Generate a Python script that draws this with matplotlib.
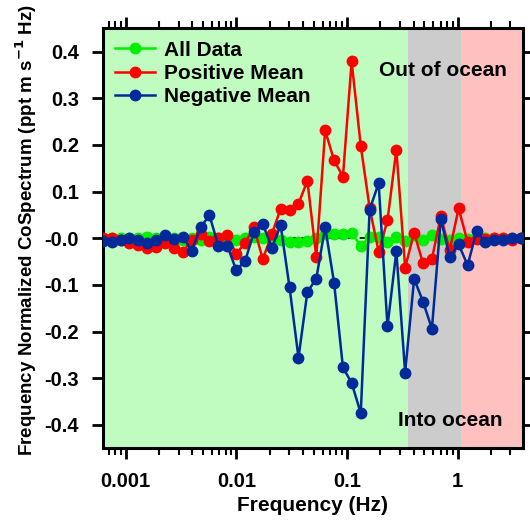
import numpy as np
import matplotlib.pyplot as plt
from matplotlib.ticker import LogLocator, NullFormatter

plt.rcParams['font.family'] = ['Liberation Sans', 'DejaVu Sans']
plt.rcParams['font.weight'] = 'bold'

# Frequency bins (Hz)
freq = [0.000619, 0.000746, 0.000897, 0.00108, 0.00130, 0.00156, 0.00188, 0.00226,
        0.00272, 0.00328, 0.00394, 0.00475, 0.00571, 0.00688, 0.00827, 0.00995,
        0.0120, 0.0144, 0.0173, 0.0209, 0.0251, 0.0302, 0.0364, 0.0438,
        0.0527, 0.0634, 0.0763, 0.0918, 0.110, 0.133, 0.160, 0.193,
        0.232, 0.279, 0.335, 0.404, 0.486, 0.585, 0.704, 0.846,
        1.02, 1.23, 1.48, 1.78, 2.14, 2.57, 3.09, 3.72]

# Frequency-normalised cospectra
all_data = [0.0, 0.0, 0.001, 0.0, 0.0, 0.002, 0.0, 0.0,
            0.0, -0.004, 0.0, -0.003, 0.002, 0.0, -0.001, -0.003,
            0.0, 0.002, 0.001, -0.001, -0.003, -0.009, -0.009, -0.006,
            0.0, 0.008, 0.008, 0.008, 0.011, -0.017, 0.003, 0.003,
            -0.009, 0.003, -0.006, 0.006, -0.003, 0.006, -0.002, -0.004,
            0.0, -0.001, 0.001, 0.0, 0.0, 0.0, 0.0, 0.0]

pos_mean = [0.0, 0.0, -0.004, -0.010, -0.015, -0.022, -0.018, -0.011,
            -0.021, -0.030, -0.003, 0.009, -0.007, 0.0, 0.006, -0.033,
            -0.010, 0.024, -0.045, 0.009, 0.063, 0.060, 0.074, 0.123,
            -0.040, 0.231, 0.167, 0.132, 0.379, 0.198, 0.065, -0.029,
            0.038, 0.190, -0.063, 0.012, -0.054, -0.044, 0.047, -0.026,
            0.064, -0.009, -0.001, -0.002, 0.0, 0.0, -0.003, 0.0]

neg_mean = [-0.007, -0.008, -0.004, 0.0, -0.004, -0.010, -0.004, 0.006,
            -0.001, 0.003, -0.027, 0.024, 0.049, -0.017, -0.016, -0.068,
            -0.049, 0.014, 0.031, -0.021, 0.028, -0.105, -0.256, -0.115,
            -0.087, 0.024, -0.095, -0.277, -0.310, -0.375, 0.061, 0.118,
            -0.189, -0.028, -0.288, -0.087, -0.136, -0.194, 0.042, -0.041,
            -0.013, -0.058, 0.015, -0.009, -0.003, -0.003, 0.001, 0.0]

# Regime boundaries (Hz)
f_min, f_ocean, f_grey, f_max = 0.00062, 0.357, 1.07, 3.86

fig = plt.figure(figsize=(5.30, 5.23), dpi=100)
ax = fig.add_axes([0.194, 0.143, 0.792, 0.803])

ax.axvspan(f_min, f_ocean, color='#c0fcc0', zorder=0, lw=0)
ax.axvspan(f_ocean, f_grey, color='#cccccc', zorder=0, lw=0)
ax.axvspan(f_grey, f_max, color='#ffc0c0', zorder=0, lw=0)
ax.axhline(0, color='black', ls='--', lw=1.2, dashes=(4, 3), zorder=1)

kw = dict(marker='o', ms=7.5, lw=1.8)
ax.plot(freq, all_data, color='#00ee00', label='All Data', zorder=2, **kw)
ax.plot(freq, pos_mean, color='#ff0000', label='Positive Mean', zorder=3, **kw)
ax.plot(freq, neg_mean, color='#002a9a', label='Negative Mean', zorder=4, **kw)

ax.set_xscale('log')
ax.set_xlim(f_min, f_max)
ax.set_ylim(-0.45, 0.45)
ax.set_xticks([0.001, 0.01, 0.1, 1])
ax.set_xticklabels(['0.001', '0.01', '0.1', '1'])
ax.xaxis.set_minor_locator(LogLocator(base=10, subs=np.arange(2, 10)))
ax.xaxis.set_minor_formatter(NullFormatter())
ax.set_yticks(np.arange(-0.4, 0.41, 0.1))
ax.set_yticklabels([f'{v:.1f}' for v in np.arange(-0.4, 0.41, 0.1)])

ax.tick_params(axis='both', which='major', direction='out', length=8, width=2,
               labelsize=14.5, top=True, right=True, pad=9)
ax.tick_params(axis='both', which='minor', direction='out', length=5, width=1.5,
               top=True, right=True)
for s in ax.spines.values():
    s.set_linewidth(2.2)

ax.set_xlabel('Frequency (Hz)', fontsize=15, fontweight='bold', labelpad=4)
ax.set_ylabel('Frequency Normalized CoSpectrum (ppt m s$^{\\mathbf{-1}}$ Hz)',
              fontsize=13.5, fontweight='bold', labelpad=4, y=0.52)

ax.text(0.194, 0.36, 'Out of ocean', fontsize=15, fontweight='bold', va='center')
ax.text(0.288, -0.39, 'Into ocean', fontsize=15, fontweight='bold', va='center')

ax.legend(loc='upper left', frameon=False, handlelength=1.9,
          handletextpad=0.45, labelspacing=0.2, borderaxespad=0.2,
          prop={'weight': 'bold', 'size': 15})

fig.savefig('out.png', dpi=100)
